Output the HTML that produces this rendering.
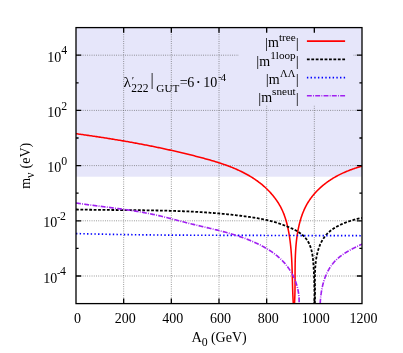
<!DOCTYPE html>
<html><head><meta charset="utf-8"><title>plot</title>
<style>html,body{margin:0;padding:0;background:#fff;width:403px;height:353px;overflow:hidden}body{position:relative;font-family:"Liberation Serif",serif}svg,text,tspan{font-family:"Liberation Serif",serif}</style></head>
<body>
<svg width="403" height="353" viewBox="0 0 403 353" style="position:absolute;left:0;top:0;will-change:transform" fill="#000">
<rect x="0" y="0" width="403" height="353" fill="#fff"/>
<rect x="76.0" y="27.6" width="286.0" height="149.1" fill="#e6e6fa"/>
<path d="M123.67,27.6 V303.6 M171.33,27.6 V303.6 M219.00,27.6 V303.6 M266.67,27.6 V303.6 M314.33,27.6 V303.6 M76.0,55.20 H362.0 M76.0,110.40 H362.0 M76.0,165.60 H362.0 M76.0,220.80 H362.0 M76.0,276.00 H362.0" stroke="#585858" stroke-width="0.7" stroke-dasharray="0.85 1.38" fill="none"/>
<rect x="239" y="31" width="114" height="74.5" fill="#e6e6fa"/>
<clipPath id="c"><rect x="76.0" y="27.6" width="286.0" height="276.0"/></clipPath>
<g clip-path="url(#c)" fill="none" stroke-linejoin="round">
<path d="M76.00,133.70 L77.09,133.85 L78.17,134.00 L79.26,134.15 L80.35,134.30 L81.43,134.45 L82.51,134.60 L83.60,134.75 L84.68,134.91 L85.76,135.06 L86.84,135.21 L87.92,135.37 L88.99,135.52 L90.07,135.68 L91.15,135.84 L92.22,135.99 L93.29,136.15 L94.37,136.31 L95.44,136.47 L96.51,136.63 L97.58,136.79 L98.65,136.95 L99.72,137.11 L100.79,137.28 L101.85,137.44 L102.92,137.60 L103.98,137.77 L105.05,137.93 L106.11,138.10 L107.18,138.27 L108.24,138.44 L109.30,138.61 L110.36,138.78 L111.42,138.95 L112.48,139.12 L113.54,139.29 L114.60,139.46 L115.66,139.64 L116.72,139.81 L117.77,139.99 L118.83,140.16 L119.89,140.34 L120.94,140.52 L122.00,140.70 L123.05,140.88 L124.10,141.06 L125.16,141.24 L126.21,141.43 L127.26,141.61 L128.31,141.79 L129.37,141.98 L130.42,142.17 L131.47,142.36 L132.52,142.55 L133.57,142.74 L134.62,142.93 L135.67,143.12 L136.72,143.31 L137.77,143.51 L138.82,143.70 L139.86,143.90 L140.91,144.10 L141.96,144.29 L143.01,144.49 L144.06,144.70 L145.10,144.90 L146.15,145.10 L147.20,145.31 L148.24,145.51 L149.29,145.72 L150.34,145.93 L151.38,146.13 L152.43,146.35 L153.48,146.56 L154.52,146.77 L155.57,146.98 L156.61,147.20 L157.66,147.42 L158.71,147.63 L159.75,147.85 L160.80,148.07 L161.84,148.29 L162.89,148.52 L163.94,148.74 L164.98,148.97 L166.03,149.19 L167.08,149.42 L168.12,149.65 L169.17,149.88 L170.22,150.12 L171.26,150.35 L172.31,150.58 L173.36,150.82 L174.41,151.06 L175.45,151.30 L176.50,151.54 L177.55,151.78 L178.60,152.03 L179.65,152.27 L180.70,152.52 L181.75,152.77 L182.80,153.01 L183.85,153.27 L184.90,153.52 L185.95,153.77 L187.00,154.03 L188.05,154.29 L189.10,154.54 L190.16,154.80 L191.21,155.07 L192.26,155.33 L193.32,155.60 L194.37,155.86 L195.43,156.13 L196.48,156.40 L197.54,156.67 L198.59,156.95 L199.65,157.22 L200.71,157.50 L201.77,157.78 L202.82,158.06 L203.88,158.34 L204.94,158.63 L205.99,158.92 L207.05,159.21 L208.10,159.50 L209.16,159.80 L210.21,160.10 L211.27,160.40 L212.32,160.71 L213.37,161.02 L214.42,161.34 L215.46,161.66 L216.51,161.98 L217.56,162.31 L218.60,162.64 L219.64,162.97 L220.68,163.31 L221.71,163.66 L222.75,164.01 L223.78,164.36 L224.81,164.72 L225.83,165.09 L226.85,165.46 L227.87,165.83 L228.89,166.22 L229.90,166.60 L230.91,167.00 L231.92,167.40 L232.92,167.80 L233.92,168.22 L234.92,168.63 L235.91,169.06 L236.90,169.49 L237.88,169.93 L238.86,170.38 L239.83,170.83 L240.80,171.29 L241.77,171.76 L242.73,172.24 L243.68,172.72 L244.63,173.21 L245.57,173.71 L246.51,174.22 L247.45,174.73 L248.37,175.26 L249.30,175.79 L250.21,176.33 L251.12,176.88 L252.03,177.44 L252.92,178.01 L253.82,178.59 L254.70,179.18 L255.58,179.78 L256.45,180.38 L257.32,181.00 L258.17,181.63 L259.02,182.26 L259.87,182.91 L260.70,183.57 L261.53,184.23 L262.35,184.91 L263.16,185.60 L263.97,186.30 L264.77,187.01 L265.56,187.74 L266.34,188.47 L267.11,189.22 L267.87,189.97 L268.63,190.74 L269.37,191.52 L270.10,192.31 L270.83,193.11 L271.54,193.91 L272.24,194.73 L272.94,195.56 L273.62,196.40 L274.28,197.25 L274.94,198.11 L275.58,198.98 L276.21,199.85 L276.82,200.74 L277.43,201.63 L278.01,202.53 L278.59,203.44 L279.14,204.35 L279.68,205.28 L280.21,206.21 L280.72,207.15 L281.22,208.10 L281.69,209.05 L282.15,210.01 L282.59,210.98 L283.02,211.95 L283.43,212.93 L283.82,213.91 L284.20,214.90 L284.56,215.90 L284.91,216.90 L285.25,217.91 L285.57,218.92 L285.87,219.93 L286.17,220.95 L286.46,221.98 L286.73,223.01 L286.99,224.04 L287.25,225.08 L287.49,226.12 L287.72,227.16 L287.95,228.21 L288.17,229.26 L288.38,230.31 L288.58,231.37 L288.78,232.43 L288.96,233.49 L289.14,234.55 L289.32,235.62 L289.48,236.69 L289.64,237.76 L289.80,238.83 L289.94,239.91 L290.08,240.99 L290.22,242.06 L290.35,243.15 L290.47,244.23 L290.59,245.31 L290.70,246.40 L290.81,247.49 L290.91,248.57 L291.01,249.66 L291.10,250.75 L291.19,251.85 L291.27,252.94 L291.35,254.03 L291.42,255.13 L291.49,256.22 L291.56,257.32 L291.63,258.41 L291.69,259.51 L291.74,260.61 L291.80,261.70 L291.85,262.80 L291.90,263.90 L291.94,265.00 L291.99,266.09 L292.03,267.19 L292.07,268.28 L292.11,269.38 L292.14,270.47 L292.18,271.57 L292.21,272.66 L292.24,273.75 L292.27,274.85 L292.30,275.94 L292.33,277.03 L292.36,278.11 L292.38,279.20 L292.41,280.28 L292.44,281.37 L292.47,282.45 L292.50,283.53 L292.52,284.61 L292.55,285.69 L292.58,286.76 L292.61,287.83 L292.65,288.90 L292.68,289.97 L292.71,291.04 L292.75,292.10 L292.79,293.16 L292.83,294.22 L292.87,295.27 L292.91,296.32 L292.96,297.37 L293.01,298.42 L293.06,299.46 L293.12,300.50 L293.17,301.54 L293.24,302.57 L293.30,303.60" stroke="#ff0000" stroke-width="1.55"/>
<path d="M294.50,303.60 L294.53,303.04 L294.56,302.49 L294.59,301.93 L294.62,301.37 L294.65,300.81 L294.68,300.25 L294.70,299.70 L294.73,299.14 L294.75,298.58 L294.77,298.02 L294.79,297.46 L294.81,296.90 L294.83,296.33 L294.85,295.77 L294.87,295.21 L294.88,294.65 L294.90,294.09 L294.91,293.52 L294.92,292.96 L294.94,292.39 L294.95,291.83 L294.96,291.27 L294.97,290.70 L294.98,290.14 L294.99,289.57 L294.99,289.00 L295.00,288.44 L295.01,287.87 L295.01,287.31 L295.02,286.74 L295.02,286.17 L295.03,285.60 L295.03,285.04 L295.04,284.47 L295.04,283.90 L295.04,283.33 L295.04,282.76 L295.05,282.19 L295.05,281.62 L295.05,281.05 L295.05,280.48 L295.05,279.91 L295.05,279.34 L295.06,278.77 L295.06,278.20 L295.06,277.63 L295.06,277.06 L295.06,276.49 L295.06,275.92 L295.06,275.35 L295.06,274.78 L295.07,274.21 L295.07,273.63 L295.07,273.06 L295.07,272.49 L295.07,271.92 L295.08,271.35 L295.08,270.77 L295.08,270.20 L295.09,269.63 L295.09,269.06 L295.10,268.48 L295.10,267.91 L295.11,267.34 L295.11,266.76 L295.12,266.19 L295.13,265.62 L295.13,265.05 L295.14,264.47 L295.15,263.90 L295.16,263.33 L295.17,262.75 L295.18,262.18 L295.20,261.61 L295.21,261.03 L295.22,260.46 L295.24,259.89 L295.25,259.31 L295.27,258.74 L295.29,258.17 L295.31,257.60 L295.33,257.02 L295.35,256.45 L295.37,255.88 L295.39,255.30 L295.42,254.73 L295.44,254.16 L295.47,253.59 L295.50,253.01 L295.53,252.44 L295.56,251.87 L295.59,251.30 L295.62,250.73 L295.66,250.15 L295.70,249.58 L295.73,249.01 L295.77,248.44 L295.81,247.87 L295.86,247.30 L295.90,246.73 L295.95,246.16 L295.99,245.59 L296.04,245.02 L296.09,244.45 L296.15,243.88 L296.20,243.31 L296.26,242.74 L296.32,242.17 L296.38,241.60 L296.44,241.03 L296.50,240.46 L296.57,239.89 L296.63,239.32 L296.70,238.76 L296.78,238.19 L296.85,237.62 L296.93,237.05 L297.00,236.49 L297.08,235.92 L297.17,235.35 L297.25,234.79 L297.34,234.22 L297.43,233.66 L297.52,233.09 L297.61,232.53 L297.71,231.96 L297.81,231.40 L297.91,230.84 L298.02,230.27 L298.12,229.71 L298.23,229.15 L298.34,228.59 L298.46,228.03 L298.58,227.47 L298.70,226.91 L298.82,226.35 L298.94,225.79 L299.07,225.24 L299.20,224.68 L299.34,224.13 L299.47,223.57 L299.61,223.02 L299.76,222.47 L299.90,221.92 L300.05,221.37 L300.21,220.82 L300.36,220.27 L300.52,219.73 L300.68,219.18 L300.85,218.64 L301.02,218.10 L301.19,217.56 L301.37,217.02 L301.55,216.48 L301.73,215.95 L301.92,215.41 L302.11,214.88 L302.30,214.35 L302.50,213.82 L302.70,213.30 L302.90,212.77 L303.11,212.25 L303.32,211.73 L303.54,211.21 L303.76,210.69 L303.98,210.18 L304.21,209.66 L304.44,209.15 L304.68,208.64 L304.92,208.14 L305.16,207.63 L305.41,207.13 L305.66,206.63 L305.92,206.13 L306.18,205.64 L306.45,205.15 L306.71,204.66 L306.99,204.17 L307.27,203.69 L307.55,203.21 L307.84,202.73 L308.13,202.25 L308.42,201.78 L308.72,201.31 L309.03,200.84 L309.34,200.37 L309.65,199.91 L309.97,199.45 L310.29,198.99 L310.61,198.54 L310.94,198.08 L311.27,197.64 L311.61,197.19 L311.95,196.74 L312.29,196.30 L312.64,195.86 L312.99,195.43 L313.35,195.00 L313.71,194.57 L314.07,194.14 L314.44,193.71 L314.81,193.29 L315.18,192.87 L315.56,192.46 L315.94,192.04 L316.32,191.63 L316.71,191.23 L317.10,190.82 L317.49,190.42 L317.89,190.02 L318.29,189.62 L318.70,189.23 L319.10,188.84 L319.51,188.45 L319.93,188.07 L320.34,187.69 L320.76,187.31 L321.18,186.93 L321.61,186.56 L322.04,186.19 L322.47,185.82 L322.90,185.46 L323.34,185.10 L323.78,184.74 L324.22,184.38 L324.67,184.03 L325.12,183.68 L325.57,183.34 L326.02,182.99 L326.47,182.65 L326.93,182.32 L327.39,181.98 L327.86,181.65 L328.32,181.32 L328.79,181.00 L329.26,180.68 L329.73,180.36 L330.21,180.04 L330.68,179.73 L331.16,179.42 L331.64,179.11 L332.13,178.81 L332.61,178.51 L333.10,178.21 L333.59,177.92 L334.08,177.63 L334.58,177.34 L335.07,177.06 L335.57,176.77 L336.07,176.50 L336.57,176.22 L337.07,175.95 L337.58,175.68 L338.08,175.41 L338.59,175.15 L339.10,174.89 L339.61,174.63 L340.12,174.38 L340.64,174.12 L341.15,173.88 L341.67,173.63 L342.19,173.39 L342.71,173.14 L343.23,172.91 L343.75,172.67 L344.27,172.44 L344.80,172.21 L345.32,171.98 L345.85,171.76 L346.38,171.53 L346.91,171.31 L347.44,171.10 L347.97,170.88 L348.50,170.67 L349.03,170.46 L349.57,170.25 L350.10,170.05 L350.64,169.85 L351.17,169.65 L351.71,169.45 L352.25,169.25 L352.79,169.06 L353.33,168.87 L353.86,168.68 L354.41,168.49 L354.95,168.31 L355.49,168.13 L356.03,167.95 L356.57,167.77 L357.11,167.60 L357.66,167.42 L358.20,167.25 L358.74,167.08 L359.28,166.91 L359.83,166.75 L360.37,166.59 L360.92,166.42 L361.46,166.26 L362.00,166.11" stroke="#ff0000" stroke-width="1.55"/>
<path d="M76.00,209.50 L77.00,209.52 L77.99,209.54 L78.99,209.56 L79.99,209.58 L80.99,209.60 L81.99,209.62 L82.99,209.64 L83.99,209.66 L84.99,209.67 L85.99,209.69 L86.99,209.70 L87.99,209.72 L89.00,209.73 L90.00,209.75 L91.00,209.76 L92.01,209.78 L93.01,209.79 L94.01,209.80 L95.02,209.81 L96.02,209.83 L97.03,209.84 L98.03,209.85 L99.04,209.86 L100.05,209.87 L101.05,209.88 L102.06,209.89 L103.07,209.90 L104.08,209.91 L105.08,209.92 L106.09,209.93 L107.10,209.94 L108.11,209.95 L109.12,209.96 L110.13,209.96 L111.14,209.97 L112.15,209.98 L113.16,209.99 L114.17,210.00 L115.18,210.00 L116.19,210.01 L117.21,210.02 L118.22,210.03 L119.23,210.04 L120.24,210.04 L121.25,210.05 L122.27,210.06 L123.28,210.07 L124.29,210.08 L125.30,210.09 L126.32,210.09 L127.33,210.10 L128.35,210.11 L129.36,210.12 L130.37,210.13 L131.39,210.14 L132.40,210.15 L133.42,210.16 L134.43,210.17 L135.45,210.18 L136.46,210.19 L137.48,210.20 L138.49,210.21 L139.51,210.22 L140.52,210.23 L141.54,210.25 L142.55,210.26 L143.57,210.27 L144.58,210.28 L145.60,210.30 L146.62,210.31 L147.63,210.33 L148.65,210.34 L149.66,210.36 L150.68,210.37 L151.70,210.39 L152.71,210.41 L153.73,210.42 L154.74,210.44 L155.76,210.46 L156.78,210.48 L157.79,210.50 L158.81,210.52 L159.82,210.54 L160.84,210.56 L161.86,210.59 L162.87,210.61 L163.89,210.63 L164.90,210.66 L165.92,210.68 L166.94,210.71 L167.95,210.74 L168.97,210.77 L169.98,210.79 L171.00,210.82 L172.01,210.85 L173.03,210.89 L174.04,210.92 L175.06,210.95 L176.08,210.98 L177.09,211.02 L178.10,211.05 L179.12,211.09 L180.13,211.13 L181.15,211.17 L182.16,211.21 L183.18,211.25 L184.19,211.29 L185.20,211.33 L186.22,211.38 L187.23,211.42 L188.24,211.47 L189.26,211.51 L190.27,211.56 L191.28,211.61 L192.29,211.66 L193.31,211.71 L194.32,211.77 L195.33,211.82 L196.34,211.87 L197.35,211.93 L198.36,211.99 L199.37,212.05 L200.38,212.11 L201.39,212.17 L202.40,212.23 L203.41,212.30 L204.42,212.36 L205.43,212.43 L206.44,212.50 L207.45,212.57 L208.45,212.64 L209.46,212.71 L210.47,212.79 L211.48,212.86 L212.48,212.94 L213.49,213.02 L214.50,213.10 L215.50,213.18 L216.51,213.26 L217.51,213.35 L218.52,213.43 L219.52,213.52 L220.52,213.61 L221.53,213.70 L222.53,213.79 L223.53,213.89 L224.53,213.98 L225.54,214.08 L226.54,214.18 L227.54,214.28 L228.54,214.38 L229.54,214.49 L230.54,214.60 L231.54,214.70 L232.53,214.81 L233.53,214.93 L234.53,215.04 L235.53,215.15 L236.52,215.27 L237.52,215.39 L238.51,215.51 L239.51,215.64 L240.50,215.76 L241.50,215.89 L242.49,216.02 L243.48,216.15 L244.48,216.28 L245.47,216.41 L246.46,216.55 L247.45,216.69 L248.44,216.83 L249.43,216.97 L250.42,217.12 L251.41,217.27 L252.40,217.42 L253.38,217.57 L254.37,217.73 L255.36,217.88 L256.34,218.05 L257.33,218.21 L258.31,218.38 L259.29,218.56 L260.28,218.74 L261.26,218.92 L262.24,219.11 L263.22,219.31 L264.20,219.51 L265.18,219.72 L266.16,219.93 L267.14,220.15 L268.12,220.38 L269.09,220.61 L270.07,220.85 L271.04,221.10 L272.02,221.36 L272.99,221.63 L273.97,221.90 L274.94,222.18 L275.91,222.47 L276.88,222.77 L277.85,223.08 L278.82,223.40 L279.79,223.73 L280.76,224.06 L281.73,224.40 L282.69,224.75 L283.66,225.11 L284.62,225.47 L285.59,225.85 L286.55,226.23 L287.51,226.61 L288.47,227.01 L289.43,227.41 L290.38,227.82 L291.33,228.25 L292.27,228.68 L293.20,229.12 L294.13,229.58 L295.04,230.05 L295.94,230.54 L296.82,231.04 L297.69,231.55 L298.55,232.09 L299.38,232.64 L300.20,233.21 L301.00,233.79 L301.78,234.40 L302.53,235.03 L303.26,235.68 L303.96,236.35 L304.64,237.04 L305.29,237.76 L305.91,238.50 L306.50,239.26 L307.06,240.04 L307.60,240.85 L308.10,241.67 L308.57,242.52 L309.01,243.38 L309.42,244.26 L309.81,245.16 L310.17,246.08 L310.51,247.01 L310.82,247.96 L311.10,248.91 L311.37,249.89 L311.62,250.87 L311.84,251.86 L312.05,252.86 L312.24,253.87 L312.41,254.89 L312.57,255.92 L312.71,256.95 L312.84,257.98 L312.96,259.02 L313.07,260.07 L313.16,261.11 L313.25,262.16 L313.34,263.20 L313.41,264.24 L313.48,265.28 L313.55,266.32 L313.61,267.36 L313.67,268.39 L313.73,269.41 L313.78,270.44 L313.83,271.46 L313.88,272.47 L313.93,273.48 L313.98,274.49 L314.02,275.50 L314.06,276.50 L314.10,277.51 L314.13,278.51 L314.17,279.51 L314.20,280.50 L314.23,281.50 L314.26,282.49 L314.29,283.49 L314.31,284.48 L314.33,285.48 L314.36,286.47 L314.38,287.46 L314.39,288.46 L314.41,289.45 L314.42,290.45 L314.44,291.45 L314.45,292.45 L314.46,293.45 L314.47,294.45 L314.48,295.45 L314.48,296.46 L314.49,297.47 L314.49,298.48 L314.50,299.50 L314.50,300.52 L314.50,301.54 L314.50,302.57 L314.50,303.60" stroke="#000" stroke-width="1.8" stroke-dasharray="2.8 1.62"/>
<path d="M314.80,303.60 L314.82,303.25 L314.83,302.90 L314.85,302.55 L314.87,302.20 L314.88,301.85 L314.89,301.50 L314.90,301.15 L314.92,300.79 L314.93,300.44 L314.94,300.08 L314.94,299.73 L314.95,299.37 L314.96,299.01 L314.97,298.65 L314.97,298.29 L314.98,297.93 L314.98,297.57 L314.99,297.21 L314.99,296.84 L314.99,296.48 L315.00,296.11 L315.00,295.75 L315.00,295.38 L315.00,295.01 L315.00,294.65 L315.00,294.28 L315.00,293.91 L315.00,293.54 L315.00,293.17 L315.00,292.80 L315.00,292.43 L315.00,292.06 L314.99,291.68 L314.99,291.31 L314.99,290.94 L314.98,290.56 L314.98,290.19 L314.98,289.81 L314.97,289.43 L314.97,289.06 L314.97,288.68 L314.96,288.30 L314.96,287.93 L314.96,287.55 L314.95,287.17 L314.95,286.79 L314.94,286.41 L314.94,286.03 L314.94,285.65 L314.93,285.27 L314.93,284.89 L314.92,284.51 L314.92,284.13 L314.92,283.74 L314.92,283.36 L314.91,282.98 L314.91,282.60 L314.91,282.21 L314.91,281.83 L314.91,281.45 L314.90,281.06 L314.90,280.68 L314.90,280.30 L314.90,279.91 L314.90,279.53 L314.90,279.14 L314.91,278.76 L314.91,278.37 L314.91,277.99 L314.91,277.61 L314.92,277.22 L314.92,276.84 L314.93,276.45 L314.93,276.07 L314.94,275.68 L314.94,275.30 L314.95,274.91 L314.96,274.53 L314.97,274.14 L314.98,273.76 L314.99,273.37 L315.00,272.99 L315.01,272.61 L315.02,272.22 L315.04,271.84 L315.05,271.45 L315.07,271.07 L315.08,270.69 L315.10,270.30 L315.12,269.92 L315.14,269.54 L315.16,269.15 L315.18,268.77 L315.20,268.39 L315.23,268.01 L315.25,267.63 L315.28,267.24 L315.31,266.86 L315.34,266.48 L315.36,266.10 L315.40,265.72 L315.43,265.34 L315.46,264.96 L315.50,264.58 L315.53,264.21 L315.57,263.83 L315.61,263.45 L315.65,263.07 L315.69,262.70 L315.73,262.32 L315.78,261.94 L315.82,261.57 L315.87,261.19 L315.92,260.82 L315.97,260.45 L316.02,260.07 L316.07,259.70 L316.13,259.33 L316.19,258.96 L316.25,258.59 L316.31,258.22 L316.37,257.85 L316.43,257.48 L316.50,257.11 L316.56,256.75 L316.63,256.38 L316.70,256.01 L316.78,255.65 L316.85,255.28 L316.93,254.92 L317.00,254.56 L317.08,254.20 L317.17,253.83 L317.25,253.47 L317.34,253.11 L317.43,252.76 L317.52,252.40 L317.61,252.04 L317.70,251.69 L317.80,251.33 L317.90,250.98 L318.00,250.62 L318.10,250.27 L318.20,249.92 L318.31,249.57 L318.42,249.22 L318.53,248.88 L318.65,248.53 L318.76,248.18 L318.88,247.84 L319.00,247.50 L319.13,247.16 L319.25,246.82 L319.38,246.48 L319.51,246.14 L319.64,245.80 L319.78,245.47 L319.92,245.14 L320.06,244.80 L320.20,244.47 L320.35,244.14 L320.49,243.82 L320.64,243.49 L320.80,243.17 L320.95,242.84 L321.11,242.52 L321.27,242.20 L321.44,241.88 L321.61,241.57 L321.78,241.25 L321.95,240.94 L322.12,240.63 L322.30,240.32 L322.48,240.01 L322.67,239.70 L322.85,239.40 L323.04,239.10 L323.24,238.79 L323.43,238.50 L323.63,238.20 L323.83,237.90 L324.04,237.61 L324.24,237.32 L324.45,237.03 L324.67,236.74 L324.89,236.46 L325.11,236.17 L325.33,235.89 L325.56,235.62 L325.79,235.34 L326.02,235.06 L326.25,234.79 L326.49,234.52 L326.74,234.25 L326.98,233.99 L327.23,233.72 L327.49,233.46 L327.74,233.20 L328.00,232.95 L328.27,232.69 L328.53,232.44 L328.80,232.19 L329.08,231.95 L329.35,231.70 L329.63,231.46 L329.92,231.22 L330.21,230.98 L330.50,230.75 L330.79,230.52 L331.09,230.29 L331.39,230.06 L331.69,229.84 L332.00,229.61 L332.31,229.39 L332.62,229.18 L332.94,228.96 L333.25,228.75 L333.57,228.54 L333.90,228.33 L334.22,228.12 L334.55,227.92 L334.88,227.72 L335.21,227.52 L335.54,227.32 L335.88,227.13 L336.22,226.93 L336.56,226.74 L336.90,226.56 L337.24,226.37 L337.59,226.19 L337.93,226.00 L338.28,225.82 L338.63,225.65 L338.98,225.47 L339.33,225.30 L339.68,225.13 L340.03,224.96 L340.39,224.79 L340.74,224.63 L341.10,224.46 L341.45,224.30 L341.81,224.14 L342.17,223.99 L342.52,223.83 L342.88,223.68 L343.24,223.53 L343.60,223.38 L343.96,223.23 L344.32,223.08 L344.67,222.94 L345.03,222.80 L345.39,222.66 L345.75,222.52 L346.10,222.38 L346.46,222.25 L346.82,222.12 L347.17,221.99 L347.53,221.86 L347.88,221.73 L348.23,221.60 L348.58,221.48 L348.93,221.36 L349.28,221.24 L349.63,221.12 L349.98,221.00 L350.33,220.88 L350.67,220.77 L351.02,220.66 L351.37,220.55 L351.71,220.44 L352.06,220.33 L352.40,220.23 L352.75,220.12 L353.09,220.02 L353.44,219.92 L353.78,219.82 L354.13,219.72 L354.47,219.62 L354.82,219.53 L355.17,219.43 L355.52,219.34 L355.86,219.25 L356.21,219.16 L356.56,219.07 L356.92,218.98 L357.27,218.90 L357.62,218.81 L357.98,218.73 L358.33,218.65 L358.69,218.57 L359.05,218.49 L359.41,218.41 L359.78,218.33 L360.14,218.26 L360.51,218.19 L360.88,218.11 L361.25,218.04 L361.62,217.97 L362.00,217.90" stroke="#000" stroke-width="1.8" stroke-dasharray="2.8 1.62"/>
<path d="M76.00,233.60 L76.96,233.62 L77.91,233.65 L78.87,233.67 L79.83,233.69 L80.78,233.71 L81.74,233.73 L82.69,233.76 L83.65,233.78 L84.61,233.80 L85.56,233.82 L86.52,233.84 L87.48,233.86 L88.43,233.89 L89.39,233.91 L90.35,233.93 L91.30,233.95 L92.26,233.97 L93.21,233.99 L94.17,234.01 L95.13,234.03 L96.08,234.05 L97.04,234.07 L98.00,234.09 L98.95,234.11 L99.91,234.13 L100.87,234.15 L101.82,234.17 L102.78,234.19 L103.74,234.21 L104.69,234.23 L105.65,234.25 L106.60,234.26 L107.56,234.28 L108.52,234.30 L109.47,234.32 L110.43,234.34 L111.39,234.35 L112.34,234.37 L113.30,234.39 L114.26,234.41 L115.21,234.42 L116.17,234.44 L117.13,234.46 L118.08,234.48 L119.04,234.49 L119.99,234.51 L120.95,234.52 L121.91,234.54 L122.86,234.56 L123.82,234.57 L124.78,234.59 L125.73,234.60 L126.69,234.62 L127.65,234.63 L128.60,234.65 L129.56,234.66 L130.52,234.68 L131.47,234.69 L132.43,234.71 L133.39,234.72 L134.34,234.73 L135.30,234.75 L136.25,234.76 L137.21,234.77 L138.17,234.79 L139.12,234.80 L140.08,234.81 L141.04,234.82 L141.99,234.84 L142.95,234.85 L143.91,234.86 L144.86,234.87 L145.82,234.88 L146.78,234.89 L147.73,234.90 L148.69,234.92 L149.65,234.93 L150.60,234.94 L151.56,234.95 L152.51,234.96 L153.47,234.97 L154.43,234.98 L155.38,234.99 L156.34,234.99 L157.30,235.00 L158.25,235.01 L159.21,235.02 L160.17,235.03 L161.12,235.04 L162.08,235.04 L163.04,235.05 L163.99,235.06 L164.95,235.07 L165.91,235.07 L166.86,235.08 L167.82,235.09 L168.77,235.09 L169.73,235.10 L170.69,235.10 L171.64,235.11 L172.60,235.12 L173.56,235.12 L174.51,235.13 L175.47,235.13 L176.43,235.14 L177.38,235.14 L178.34,235.15 L179.30,235.15 L180.25,235.16 L181.21,235.16 L182.17,235.16 L183.12,235.17 L184.08,235.17 L185.04,235.18 L185.99,235.18 L186.95,235.19 L187.91,235.19 L188.86,235.19 L189.82,235.20 L190.78,235.20 L191.73,235.20 L192.69,235.21 L193.64,235.21 L194.60,235.21 L195.56,235.22 L196.51,235.22 L197.47,235.23 L198.43,235.23 L199.38,235.23 L200.34,235.24 L201.30,235.24 L202.25,235.24 L203.21,235.24 L204.17,235.25 L205.12,235.25 L206.08,235.25 L207.04,235.26 L207.99,235.26 L208.95,235.26 L209.91,235.27 L210.86,235.27 L211.82,235.27 L212.78,235.28 L213.73,235.28 L214.69,235.28 L215.65,235.29 L216.60,235.29 L217.56,235.29 L218.52,235.29 L219.47,235.30 L220.43,235.30 L221.39,235.30 L222.34,235.31 L223.30,235.31 L224.26,235.31 L225.21,235.32 L226.17,235.32 L227.12,235.32 L228.08,235.33 L229.04,235.33 L229.99,235.33 L230.95,235.34 L231.91,235.34 L232.86,235.34 L233.82,235.35 L234.78,235.35 L235.73,235.35 L236.69,235.36 L237.65,235.36 L238.60,235.36 L239.56,235.37 L240.52,235.37 L241.47,235.37 L242.43,235.38 L243.39,235.38 L244.34,235.38 L245.30,235.38 L246.26,235.39 L247.21,235.39 L248.17,235.39 L249.13,235.40 L250.08,235.40 L251.04,235.40 L252.00,235.41 L252.95,235.41 L253.91,235.41 L254.87,235.42 L255.82,235.42 L256.78,235.42 L257.73,235.42 L258.69,235.43 L259.65,235.43 L260.60,235.43 L261.56,235.44 L262.52,235.44 L263.47,235.44 L264.43,235.45 L265.39,235.45 L266.34,235.45 L267.30,235.45 L268.26,235.46 L269.21,235.46 L270.17,235.46 L271.13,235.47 L272.08,235.47 L273.04,235.47 L274.00,235.48 L274.95,235.48 L275.91,235.48 L276.87,235.48 L277.82,235.49 L278.78,235.49 L279.74,235.49 L280.69,235.50 L281.65,235.50 L282.61,235.50 L283.56,235.50 L284.52,235.51 L285.48,235.51 L286.43,235.51 L287.39,235.52 L288.34,235.52 L289.30,235.52 L290.26,235.52 L291.21,235.53 L292.17,235.53 L293.13,235.53 L294.08,235.53 L295.04,235.54 L296.00,235.54 L296.95,235.54 L297.91,235.55 L298.87,235.55 L299.82,235.55 L300.78,235.55 L301.74,235.56 L302.69,235.56 L303.65,235.56 L304.61,235.56 L305.56,235.57 L306.52,235.57 L307.48,235.57 L308.43,235.57 L309.39,235.58 L310.35,235.58 L311.30,235.58 L312.26,235.58 L313.22,235.59 L314.17,235.59 L315.13,235.59 L316.08,235.59 L317.04,235.60 L318.00,235.60 L318.95,235.60 L319.91,235.60 L320.87,235.61 L321.82,235.61 L322.78,235.61 L323.74,235.61 L324.69,235.62 L325.65,235.62 L326.61,235.62 L327.56,235.62 L328.52,235.63 L329.48,235.63 L330.43,235.63 L331.39,235.63 L332.35,235.64 L333.30,235.64 L334.26,235.64 L335.22,235.64 L336.17,235.64 L337.13,235.65 L338.09,235.65 L339.04,235.65 L340.00,235.65 L340.96,235.66 L341.91,235.66 L342.87,235.66 L343.83,235.66 L344.78,235.66 L345.74,235.67 L346.69,235.67 L347.65,235.67 L348.61,235.67 L349.56,235.67 L350.52,235.68 L351.48,235.68 L352.43,235.68 L353.39,235.68 L354.35,235.68 L355.30,235.69 L356.26,235.69 L357.22,235.69 L358.17,235.69 L359.13,235.69 L360.09,235.70 L361.04,235.70 L362.00,235.70" stroke="#0000ff" stroke-width="1.65" stroke-dasharray="1.4 2.28"/>
<path d="M76.00,203.00 L76.87,203.13 L77.73,203.26 L78.60,203.38 L79.47,203.51 L80.33,203.63 L81.20,203.75 L82.07,203.88 L82.94,204.00 L83.81,204.12 L84.67,204.24 L85.54,204.36 L86.41,204.47 L87.28,204.59 L88.15,204.71 L89.02,204.82 L89.89,204.94 L90.76,205.05 L91.63,205.17 L92.50,205.28 L93.37,205.40 L94.24,205.51 L95.11,205.62 L95.98,205.73 L96.85,205.85 L97.72,205.96 L98.59,206.07 L99.47,206.18 L100.34,206.29 L101.21,206.40 L102.08,206.51 L102.95,206.62 L103.82,206.74 L104.70,206.85 L105.57,206.96 L106.44,207.07 L107.31,207.18 L108.19,207.29 L109.06,207.41 L109.93,207.52 L110.80,207.63 L111.68,207.75 L112.55,207.86 L113.42,207.98 L114.29,208.09 L115.17,208.21 L116.04,208.32 L116.91,208.44 L117.79,208.56 L118.66,208.68 L119.53,208.80 L120.41,208.92 L121.28,209.04 L122.15,209.16 L123.03,209.28 L123.90,209.41 L124.77,209.53 L125.65,209.66 L126.52,209.78 L127.39,209.91 L128.27,210.04 L129.14,210.17 L130.01,210.30 L130.88,210.44 L131.76,210.57 L132.63,210.71 L133.50,210.84 L134.38,210.98 L135.25,211.12 L136.12,211.27 L137.00,211.41 L137.87,211.56 L138.74,211.70 L139.61,211.85 L140.49,212.00 L141.36,212.15 L142.23,212.31 L143.10,212.46 L143.97,212.62 L144.85,212.78 L145.72,212.94 L146.59,213.11 L147.46,213.27 L148.33,213.44 L149.20,213.61 L150.08,213.79 L150.95,213.96 L151.82,214.14 L152.69,214.32 L153.56,214.50 L154.43,214.68 L155.30,214.87 L156.17,215.06 L157.04,215.25 L157.91,215.45 L158.78,215.64 L159.65,215.84 L160.52,216.05 L161.39,216.25 L162.26,216.46 L163.12,216.67 L163.99,216.88 L164.86,217.09 L165.73,217.31 L166.60,217.53 L167.46,217.75 L168.33,217.97 L169.20,218.19 L170.07,218.41 L170.93,218.64 L171.80,218.86 L172.66,219.09 L173.53,219.32 L174.40,219.54 L175.26,219.77 L176.13,220.00 L176.99,220.23 L177.86,220.46 L178.72,220.69 L179.58,220.91 L180.45,221.14 L181.31,221.37 L182.17,221.59 L183.04,221.82 L183.90,222.04 L184.76,222.26 L185.62,222.49 L186.48,222.71 L187.34,222.92 L188.21,223.14 L189.07,223.36 L189.93,223.57 L190.78,223.78 L191.64,223.99 L192.50,224.20 L193.36,224.41 L194.22,224.62 L195.08,224.82 L195.93,225.03 L196.79,225.23 L197.65,225.44 L198.50,225.64 L199.36,225.84 L200.22,226.04 L201.07,226.24 L201.93,226.44 L202.78,226.64 L203.63,226.84 L204.49,227.04 L205.34,227.24 L206.19,227.45 L207.04,227.65 L207.90,227.85 L208.75,228.05 L209.60,228.25 L210.45,228.45 L211.30,228.66 L212.15,228.86 L212.99,229.06 L213.84,229.27 L214.69,229.48 L215.54,229.68 L216.38,229.89 L217.23,230.10 L218.08,230.32 L218.92,230.53 L219.77,230.74 L220.61,230.96 L221.45,231.18 L222.30,231.40 L223.14,231.62 L223.98,231.85 L224.82,232.07 L225.66,232.30 L226.51,232.53 L227.35,232.76 L228.18,233.00 L229.02,233.24 L229.86,233.48 L230.70,233.72 L231.54,233.97 L232.37,234.22 L233.21,234.47 L234.04,234.73 L234.88,234.99 L235.71,235.25 L236.55,235.52 L237.38,235.78 L238.21,236.06 L239.04,236.33 L239.87,236.61 L240.70,236.90 L241.53,237.19 L242.36,237.48 L243.19,237.77 L244.02,238.08 L244.85,238.38 L245.67,238.69 L246.50,239.00 L247.32,239.32 L248.15,239.64 L248.97,239.97 L249.79,240.31 L250.62,240.64 L251.44,240.99 L252.26,241.33 L253.08,241.69 L253.90,242.04 L254.71,242.41 L255.53,242.78 L256.34,243.15 L257.15,243.53 L257.96,243.92 L258.76,244.31 L259.56,244.71 L260.36,245.11 L261.16,245.52 L261.95,245.93 L262.74,246.36 L263.53,246.78 L264.31,247.22 L265.09,247.66 L265.86,248.10 L266.63,248.56 L267.39,249.02 L268.15,249.48 L268.91,249.96 L269.65,250.44 L270.40,250.92 L271.13,251.42 L271.87,251.92 L272.59,252.43 L273.31,252.94 L274.03,253.46 L274.73,254.00 L275.43,254.53 L276.13,255.08 L276.81,255.63 L277.49,256.19 L278.16,256.76 L278.82,257.34 L279.48,257.92 L280.13,258.51 L280.76,259.11 L281.39,259.72 L282.02,260.34 L282.63,260.96 L283.23,261.60 L283.83,262.24 L284.41,262.89 L284.99,263.55 L285.55,264.21 L286.11,264.89 L286.65,265.58 L287.19,266.27 L287.71,266.97 L288.23,267.68 L288.73,268.40 L289.23,269.12 L289.71,269.85 L290.18,270.59 L290.64,271.34 L291.09,272.09 L291.53,272.85 L291.96,273.62 L292.38,274.40 L292.79,275.18 L293.18,275.96 L293.56,276.76 L293.93,277.56 L294.29,278.36 L294.64,279.17 L294.97,279.99 L295.30,280.81 L295.61,281.64 L295.91,282.47 L296.19,283.31 L296.46,284.15 L296.73,285.00 L296.97,285.85 L297.21,286.70 L297.43,287.56 L297.64,288.43 L297.84,289.30 L298.02,290.17 L298.19,291.04 L298.34,291.92 L298.49,292.81 L298.62,293.69 L298.73,294.58 L298.83,295.47 L298.92,296.37 L298.99,297.26 L299.05,298.16 L299.09,299.06 L299.12,299.97 L299.14,300.87 L299.14,301.78 L299.13,302.69 L299.10,303.60" stroke="#a020f0" stroke-width="1.65" stroke-dasharray="4.9 1.26 0.9 1.26"/>
<path d="M320.20,303.60 L320.21,303.34 L320.23,303.08 L320.24,302.83 L320.25,302.57 L320.27,302.31 L320.28,302.05 L320.30,301.79 L320.31,301.53 L320.33,301.27 L320.35,301.01 L320.36,300.75 L320.38,300.49 L320.40,300.23 L320.42,299.97 L320.44,299.70 L320.46,299.44 L320.49,299.18 L320.51,298.92 L320.53,298.66 L320.55,298.40 L320.58,298.14 L320.60,297.87 L320.63,297.61 L320.66,297.35 L320.68,297.09 L320.71,296.83 L320.74,296.56 L320.77,296.30 L320.80,296.04 L320.83,295.78 L320.86,295.52 L320.89,295.25 L320.93,294.99 L320.96,294.73 L320.99,294.47 L321.03,294.21 L321.06,293.94 L321.10,293.68 L321.14,293.42 L321.17,293.16 L321.21,292.90 L321.25,292.63 L321.29,292.37 L321.33,292.11 L321.38,291.85 L321.42,291.59 L321.46,291.33 L321.51,291.06 L321.55,290.80 L321.60,290.54 L321.64,290.28 L321.69,290.02 L321.74,289.76 L321.79,289.50 L321.84,289.24 L321.89,288.98 L321.94,288.72 L321.99,288.46 L322.04,288.20 L322.10,287.94 L322.15,287.68 L322.21,287.42 L322.26,287.16 L322.32,286.90 L322.38,286.65 L322.44,286.39 L322.49,286.13 L322.55,285.87 L322.62,285.61 L322.68,285.36 L322.74,285.10 L322.80,284.84 L322.87,284.59 L322.94,284.33 L323.00,284.08 L323.07,283.82 L323.14,283.57 L323.21,283.31 L323.28,283.06 L323.35,282.80 L323.42,282.55 L323.49,282.30 L323.57,282.04 L323.64,281.79 L323.72,281.54 L323.79,281.29 L323.87,281.04 L323.95,280.78 L324.03,280.53 L324.11,280.28 L324.19,280.03 L324.27,279.79 L324.35,279.54 L324.44,279.29 L324.52,279.04 L324.61,278.79 L324.69,278.55 L324.78,278.30 L324.87,278.05 L324.96,277.81 L325.05,277.56 L325.14,277.32 L325.24,277.07 L325.33,276.83 L325.42,276.59 L325.52,276.35 L325.62,276.10 L325.71,275.86 L325.81,275.62 L325.91,275.38 L326.01,275.14 L326.11,274.90 L326.22,274.67 L326.32,274.43 L326.43,274.19 L326.53,273.95 L326.64,273.72 L326.75,273.48 L326.86,273.25 L326.97,273.01 L327.08,272.78 L327.19,272.55 L327.30,272.32 L327.42,272.08 L327.53,271.85 L327.65,271.62 L327.77,271.39 L327.88,271.17 L328.00,270.94 L328.12,270.71 L328.25,270.48 L328.37,270.26 L328.49,270.03 L328.62,269.81 L328.75,269.59 L328.87,269.36 L329.00,269.14 L329.13,268.92 L329.26,268.70 L329.39,268.48 L329.53,268.26 L329.66,268.04 L329.80,267.83 L329.93,267.61 L330.07,267.39 L330.21,267.18 L330.35,266.97 L330.49,266.75 L330.63,266.54 L330.78,266.33 L330.92,266.12 L331.07,265.91 L331.21,265.70 L331.36,265.49 L331.51,265.29 L331.66,265.08 L331.81,264.87 L331.97,264.67 L332.12,264.47 L332.28,264.27 L332.43,264.06 L332.59,263.86 L332.75,263.66 L332.91,263.47 L333.07,263.27 L333.23,263.07 L333.40,262.88 L333.56,262.68 L333.73,262.49 L333.90,262.30 L334.06,262.11 L334.23,261.91 L334.41,261.73 L334.58,261.54 L334.75,261.35 L334.93,261.16 L335.10,260.98 L335.28,260.79 L335.46,260.61 L335.64,260.43 L335.82,260.25 L336.00,260.07 L336.19,259.89 L336.37,259.71 L336.56,259.53 L336.75,259.36 L336.93,259.18 L337.12,259.01 L337.32,258.84 L337.51,258.67 L337.70,258.49 L337.89,258.32 L338.09,258.16 L338.28,257.99 L338.48,257.82 L338.68,257.65 L338.88,257.49 L339.08,257.32 L339.28,257.16 L339.48,257.00 L339.68,256.84 L339.89,256.67 L340.09,256.51 L340.30,256.36 L340.50,256.20 L340.71,256.04 L340.92,255.88 L341.13,255.73 L341.34,255.57 L341.55,255.42 L341.76,255.26 L341.97,255.11 L342.19,254.96 L342.40,254.81 L342.62,254.66 L342.83,254.51 L343.05,254.36 L343.26,254.21 L343.48,254.07 L343.70,253.92 L343.92,253.77 L344.14,253.63 L344.36,253.49 L344.58,253.34 L344.80,253.20 L345.02,253.06 L345.25,252.92 L345.47,252.78 L345.69,252.64 L345.92,252.50 L346.14,252.36 L346.37,252.22 L346.60,252.08 L346.82,251.95 L347.05,251.81 L347.28,251.67 L347.50,251.54 L347.73,251.41 L347.96,251.27 L348.19,251.14 L348.42,251.01 L348.65,250.87 L348.88,250.74 L349.11,250.61 L349.34,250.48 L349.58,250.35 L349.81,250.22 L350.04,250.10 L350.27,249.97 L350.51,249.84 L350.74,249.71 L350.97,249.59 L351.21,249.46 L351.44,249.34 L351.67,249.21 L351.91,249.09 L352.14,248.97 L352.38,248.84 L352.61,248.72 L352.85,248.60 L353.08,248.47 L353.32,248.35 L353.56,248.23 L353.79,248.11 L354.03,247.99 L354.26,247.87 L354.50,247.75 L354.73,247.63 L354.97,247.51 L355.21,247.40 L355.44,247.28 L355.68,247.16 L355.91,247.04 L356.15,246.93 L356.39,246.81 L356.62,246.70 L356.86,246.58 L357.09,246.46 L357.33,246.35 L357.57,246.23 L357.80,246.12 L358.04,246.01 L358.27,245.89 L358.51,245.78 L358.74,245.67 L358.98,245.55 L359.21,245.44 L359.44,245.33 L359.68,245.21 L359.91,245.10 L360.15,244.99 L360.38,244.88 L360.61,244.77 L360.84,244.66 L361.08,244.55 L361.31,244.43 L361.54,244.32 L361.77,244.21 L362.00,244.10" stroke="#a020f0" stroke-width="1.65" stroke-dasharray="4.9 1.26 0.9 1.26"/>
</g>
<path d="M306.9,41.1 H345.1" stroke="#ff0000" stroke-width="1.55"/>
<path d="M306.9,59.4 H345.1" stroke="#000" stroke-width="1.8" stroke-dasharray="2.8 1.62"/>
<path d="M306.9,77.6 H345.1" stroke="#0000ff" stroke-width="1.65" stroke-dasharray="1.4 2.28"/>
<path d="M306.9,95.7 H345.1" stroke="#a020f0" stroke-width="1.65" stroke-dasharray="4.9 1.26 0.9 1.26"/>
<path d="M123.67,303.6 v-5.2 M123.67,27.6 v5.2 M171.33,303.6 v-5.2 M171.33,27.6 v5.2 M219.00,303.6 v-5.2 M219.00,27.6 v5.2 M266.67,303.6 v-5.2 M266.67,27.6 v5.2 M314.33,303.6 v-5.2 M314.33,27.6 v5.2 M76.0,276.00 h5.2 M362.0,276.00 h-5.2 M76.0,248.40 h2.6 M362.0,248.40 h-2.6 M76.0,220.80 h5.2 M362.0,220.80 h-5.2 M76.0,193.20 h2.6 M362.0,193.20 h-2.6 M76.0,165.60 h5.2 M362.0,165.60 h-5.2 M76.0,138.00 h2.6 M362.0,138.00 h-2.6 M76.0,110.40 h5.2 M362.0,110.40 h-5.2 M76.0,82.80 h2.6 M362.0,82.80 h-2.6 M76.0,55.20 h5.2 M362.0,55.20 h-5.2" stroke="#000" stroke-width="1.3" fill="none"/>
<rect x="76.0" y="27.6" width="286.0" height="276.0" fill="none" stroke="#000" stroke-width="1.3"/>
<text transform="translate(77.50,322.70) scale(0.25)" text-anchor="middle"><tspan font-size="56.00">0</tspan></text>
<text transform="translate(125.17,322.70) scale(0.25)" text-anchor="middle"><tspan font-size="56.00">200</tspan></text>
<text transform="translate(172.83,322.70) scale(0.25)" text-anchor="middle"><tspan font-size="56.00">400</tspan></text>
<text transform="translate(220.50,322.70) scale(0.25)" text-anchor="middle"><tspan font-size="56.00">600</tspan></text>
<text transform="translate(268.17,322.70) scale(0.25)" text-anchor="middle"><tspan font-size="56.00">800</tspan></text>
<text transform="translate(315.83,322.70) scale(0.25)" text-anchor="middle"><tspan font-size="56.00">1000</tspan></text>
<text transform="translate(363.50,322.70) scale(0.25)" text-anchor="middle"><tspan font-size="56.00">1200</tspan></text>
<text transform="translate(67.20,61.70) scale(0.25)" text-anchor="end"><tspan font-size="56.00">10</tspan><tspan font-size="47.20" dy="-29.20">4</tspan></text>
<text transform="translate(67.20,116.90) scale(0.25)" text-anchor="end"><tspan font-size="56.00">10</tspan><tspan font-size="47.20" dy="-29.20">2</tspan></text>
<text transform="translate(67.20,172.10) scale(0.25)" text-anchor="end"><tspan font-size="56.00">10</tspan><tspan font-size="47.20" dy="-29.20">0</tspan></text>
<text transform="translate(65.90,227.30) scale(0.25)" text-anchor="end"><tspan font-size="56.00">10</tspan><tspan font-size="40.00" dy="-28.00" dx="-0.80">-</tspan><tspan font-size="47.20" dy="-1.20" dx="-1.20">2</tspan></text>
<text transform="translate(65.90,282.50) scale(0.25)" text-anchor="end"><tspan font-size="56.00">10</tspan><tspan font-size="40.00" dy="-28.00" dx="-0.80">-</tspan><tspan font-size="47.20" dy="-1.20" dx="-1.20">4</tspan></text>
<text transform="translate(191.40,341.70) scale(0.25)" text-anchor="start"><tspan font-size="57.60">A</tspan><tspan font-size="47.20" dy="17.20">0</tspan><tspan font-size="56.00" dy="-17.20" dx="-1.20"> (GeV)</tspan></text>
<text transform="translate(30.30,188.80) rotate(-90) scale(0.25)" text-anchor="start"><tspan font-size="56.00">m</tspan><tspan font-size="48.00" dy="16.00">ν</tspan><tspan font-size="56.00" dy="-16.00" dx="2.40"> (eV)</tspan></text>
<text transform="translate(298.70,47.40) scale(0.25)" text-anchor="end"><tspan font-size="60.00" dy="2.80">|</tspan><tspan font-size="56.00" dy="-2.80">m</tspan><tspan font-size="44.80" dy="-27.60">tree</tspan><tspan font-size="60.00" dy="30.40">|</tspan></text>
<text transform="translate(298.70,65.50) scale(0.25)" text-anchor="end"><tspan font-size="60.00" dy="2.80">|</tspan><tspan font-size="56.00" dy="-2.80">m</tspan><tspan font-size="44.80" dy="-27.60">1loop</tspan><tspan font-size="60.00" dy="30.40">|</tspan></text>
<text transform="translate(298.70,83.70) scale(0.25)" text-anchor="end"><tspan font-size="60.00" dy="2.80">|</tspan><tspan font-size="56.00" dy="-2.80">m</tspan><tspan font-size="42.40" dy="-27.60" dx="1.20">ΛΛ</tspan><tspan font-size="60.00" dy="30.40" dx="1.20">|</tspan></text>
<text transform="translate(298.70,101.80) scale(0.25)" text-anchor="end"><tspan font-size="60.00" dy="2.80">|</tspan><tspan font-size="56.00" dy="-2.80">m</tspan><tspan font-size="44.80" dy="-27.60">sneut</tspan><tspan font-size="60.00" dy="30.40">|</tspan></text>
<text transform="translate(123.60,87.30) scale(0.25)" text-anchor="start"><tspan font-size="62.00">λ</tspan></text>
<text transform="translate(131.70,84.30) scale(0.25)" text-anchor="start"><tspan font-size="44.80">′</tspan></text>
<text transform="translate(131.30,91.90) scale(0.25)" text-anchor="start"><tspan font-size="46.00">222</tspan></text>
<text transform="translate(150.60,85.00) scale(0.25)" text-anchor="start"><tspan font-size="64.00">|</tspan></text>
<text transform="translate(156.30,91.80) scale(0.25)" text-anchor="start"><tspan font-size="44.80">GUT</tspan></text>
<text transform="translate(179.80,87.30) scale(0.25)" text-anchor="start"><tspan font-size="56.00">=</tspan></text>
<text transform="translate(187.20,87.30) scale(0.25)" text-anchor="start"><tspan font-size="56.00">6</tspan></text>
<text transform="translate(195.60,87.60) scale(0.25)" text-anchor="start"><tspan font-size="68.00">·</tspan></text>
<text transform="translate(203.20,87.30) scale(0.25)" text-anchor="start"><tspan font-size="56.00">10</tspan></text>
<text transform="translate(218.20,80.30) scale(0.25)" text-anchor="start"><tspan font-size="40.00">-</tspan></text>
<text transform="translate(220.60,80.60) scale(0.25)" text-anchor="start"><tspan font-size="44.80">4</tspan></text>
</svg>
</body></html>
